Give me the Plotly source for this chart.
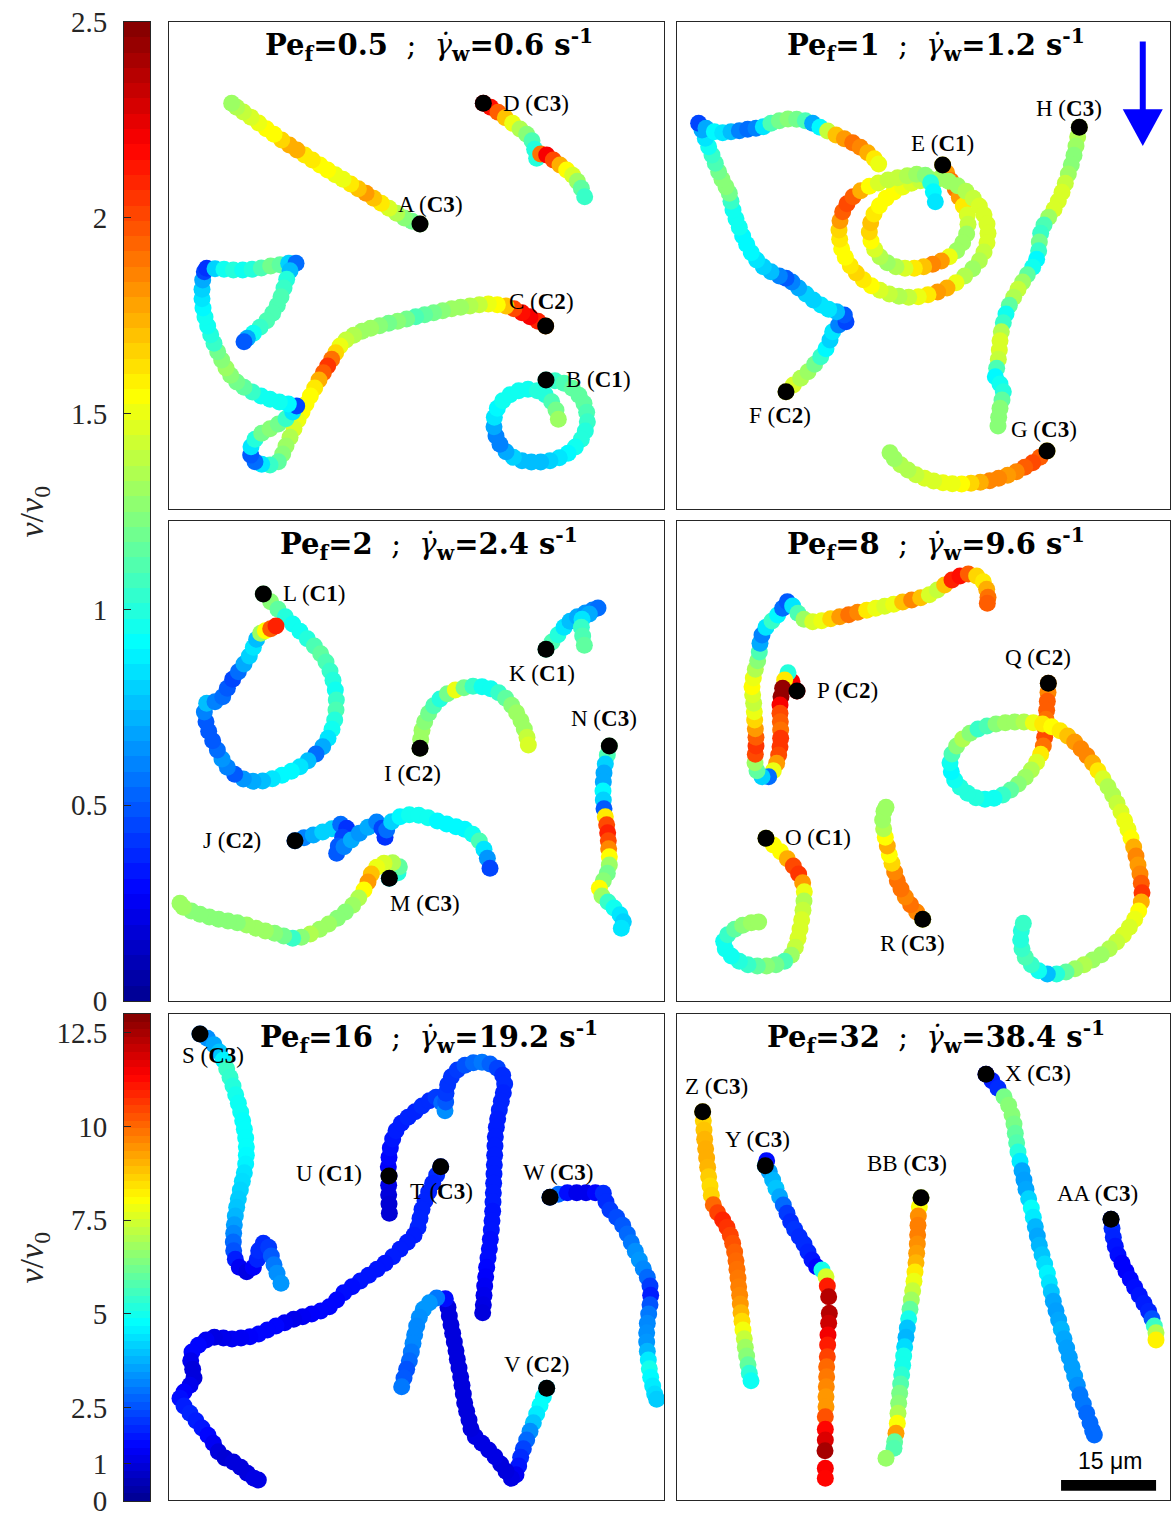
import plotly.graph_objects as go

W, H = 1171, 1514          # browser window (reference size)
PAGE_OFFSET = 0            # body margin is removed by the post script below
FIG_W, FIG_H = W - PAGE_OFFSET, H - PAGE_OFFSET
PX_PER_UM = 19.0           # tracking-image pixels per micrometre

# ---------------- trajectories: (x_px, y_px, v/v0) ----------------
# Pe_f = 0.5
A = [(750,612,1.25),(726,604,1.2),(703,594,1.25),(680,580,1.35),(657,565,1.45),(634,550,1.6),(611,535,1.7),
     (588,520,1.8),(565,506,1.7),(542,492,1.6),(519,478,1.5),(496,464,1.5),(473,450,1.55),(450,435,1.55),
     (427,420,1.6),(404,405,1.6),(381,390,1.75),(358,375,1.75),(335,360,1.65),(312,343,1.55),(289,326,1.55),
     (266,309,1.5),(243,292,1.45),(220,276,1.4),(200,262,1.35),(185,250,1.3)]
B = [(1128,1080,1.05),(1155,1082,1.05),(1182,1090,1.1),(1207,1105,1.15),(1227,1126,1.15),(1242,1150,1.15),
     (1250,1177,1.1),(1252,1205,1.05),(1246,1233,1.0),(1234,1258,1.0),(1216,1281,0.95),(1194,1300,0.9),
     (1168,1313,0.85),(1140,1322,0.8),(1112,1326,0.75),(1084,1326,0.75),(1056,1322,0.75),(1030,1312,0.8),
     (1008,1295,0.7),(990,1273,0.6),(978,1248,0.6),(972,1220,0.7),(973,1192,0.85),(982,1165,0.9),
     (998,1142,0.95),(1020,1124,0.95),(1046,1112,0.95),(1074,1108,0.95),(1102,1112,1.0),(1126,1124,1.0),
     (1145,1145,1.1),(1158,1170,1.2),(1165,1198,1.3)]
C = [(1127,918,1.8),(1104,904,2.1),(1080,890,2.2),(1056,878,2.15),(1032,866,2.0),(1008,858,1.7),(982,854,1.55),
     (955,852,1.5),(928,854,1.4),(900,858,1.35),(872,862,1.3),(845,866,1.3),(818,872,1.25),(791,878,1.2),
     (764,884,1.15),(737,890,1.1),(710,897,1.2),(683,904,1.25),(656,910,1.2),(629,917,1.25),(602,925,1.3),
     (576,934,1.3),(551,946,1.35),(528,960,1.4),(510,978,1.5),(497,998,1.65),(485,1018,1.9),(473,1038,2.05),
     (460,1058,1.95),(447,1080,1.75),(434,1104,1.6),(421,1128,1.55),(408,1152,1.55),(396,1176,1.55),
     (384,1200,1.5),(372,1226,1.45),(360,1252,1.35),(348,1278,1.3),(338,1302,1.25),(325,1325,1.15),
     (300,1335,1.05),(275,1333,0.85),(255,1325,0.55),(242,1305,0.5),(243,1280,0.85),(255,1258,1.0),
     (275,1240,1.2),(300,1226,1.25),(325,1212,1.2),(348,1196,1.05),(368,1176,0.85),(380,1158,0.45),
     (355,1152,0.9),(328,1146,0.95),(300,1138,0.95),(273,1128,0.95),(247,1116,1.05),(222,1102,1.15),
     (200,1086,1.2),(182,1066,1.25),(168,1044,1.3),(155,1020,1.25),(143,995,1.2),(132,970,1.05),
     (122,944,1.0),(113,918,0.95),(105,891,0.95),(99,864,0.9),(96,836,0.85),(96,808,0.8),(98,780,0.7),
     (103,755,0.45),(110,745,0.4),(135,746,0.8),(162,748,0.95),(190,750,1.0),(218,750,0.95),(246,748,1.0),
     (274,744,1.1),(302,738,1.2),(330,734,1.15),(356,730,0.8),(378,730,0.55),(360,752,0.75),(350,778,1.0),
     (342,804,1.05),(333,830,1.1),(322,856,1.1),(308,880,1.1),(290,902,1.1),(270,922,1.05),(250,940,0.95),
     (232,955,0.7),(222,965,0.5)]
D = [(940,250,2.2),(962,262,2.15),(984,277,1.95),(1006,293,1.7),(1028,310,1.5),(1050,327,1.35),(1070,343,1.25),
     (1086,362,1.1),(1094,388,1.0),(1100,415,1.0),(1112,402,1.9),(1130,405,2.2),(1150,420,2.0),(1170,435,1.75),
     (1190,450,1.55),(1208,466,1.45),(1222,484,1.3),(1234,505,1.15),(1244,530,1.05)]

# Pe_f = 1
E = [(800,435,1.6),(812,458,1.8),(825,482,1.9),(838,507,1.9),(850,532,1.8),(862,558,1.6),(874,585,1.45),
     (876,613,1.4),(872,642,1.3),(860,668,1.3),(842,692,1.3),(820,710,1.5),(796,723,1.8),(770,733,1.85),
     (743,740,1.7),(715,745,1.6),(687,745,1.45),(660,740,1.35),(634,728,1.3),(612,710,1.35),(596,688,1.45),
     (585,663,1.55),(580,636,1.65),(584,608,1.7),(594,582,1.6),(610,557,1.55),(630,535,1.55),(654,516,1.55),
     (680,501,1.5),(706,490,1.45),(733,482,1.4),(760,476,1.35),(790,476,1.3),(818,484,1.3),(845,497,1.3),
     (870,514,1.35),(892,535,1.4),(910,558,1.45),(924,584,1.45),(933,612,1.45),(936,640,1.45),(933,668,1.45),
     (924,696,1.4),(910,722,1.35),(890,746,1.3),(866,768,1.35),(840,788,1.5),(813,804,1.75),(785,816,1.8),
     (756,824,1.6),(727,830,1.5),(698,832,1.4),(669,829,1.35),(640,822,1.4),(612,811,1.45),(586,797,1.55),
     (562,779,1.6),(541,759,1.65),(523,737,1.6),(508,712,1.55),(497,686,1.55),(491,658,1.6),(489,630,1.65),
     (492,602,1.8),(500,575,1.95),(513,551,2.0),(531,530,1.95),(554,512,1.75),(580,499,1.55),(607,489,1.45),
     (636,480,1.4),(665,473,1.4),(694,467,1.35),(722,463,1.3),(748,466,1.25),(764,488,1.0),(772,515,0.9),
     (778,545,0.85)]
F = [(330,1115,1.5),(352,1095,1.45),(374,1075,1.35),(396,1055,1.3),(416,1033,1.2),(434,1010,1.05),(450,986,0.9),
     (462,960,0.8),(470,935,0.85),(488,915,0.6),(510,905,0.45),(505,885,0.5),(482,875,0.75),(458,868,0.85),
     (435,855,0.85),(412,840,0.8),(390,822,0.8),(368,804,0.7),(348,786,0.6),(330,775,0.5),(310,768,0.6),
     (285,755,0.75),(262,740,0.8),(242,720,0.85),(226,698,0.9),(212,673,0.9),(200,648,0.9),(190,622,0.95),
     (180,596,0.95),(171,570,0.95),(165,544,1.05),(160,520,1.2),(150,500,1.25),(138,478,1.25),(128,455,1.2),
     (118,430,1.1),(108,405,1.05),(98,380,0.95),(88,355,0.85),(78,330,0.7),(68,310,0.45),(90,325,0.7),
     (115,335,0.9),(140,338,0.85),(165,335,0.75),(190,332,0.6),(215,328,0.55),(240,325,0.6),(262,320,0.85),
     (285,310,1.1),(310,302,1.2),(336,297,1.25),(362,298,1.2),(388,302,1.1),(410,310,0.7),(432,322,0.9),
     (455,333,1.4),(480,345,1.7),(505,356,1.8),(530,368,1.9),(553,382,1.85),(575,398,1.75),(595,416,1.6),
     (608,432,1.5)]
G = [(1113,1293,1.6),(1092,1312,1.95),(1070,1328,2.0),(1046,1342,1.95),(1021,1355,1.85),(995,1366,1.8),
     (968,1375,1.85),(941,1382,1.85),(913,1387,1.75),(885,1390,1.65),(857,1392,1.55),(829,1391,1.5),
     (801,1388,1.5),(773,1383,1.45),(746,1375,1.45),(720,1364,1.4),(696,1350,1.35),(674,1334,1.35),
     (655,1316,1.3),(642,1298,1.3)]
HH = [(1210,322,1.4),(1205,350,1.35),(1200,378,1.3),(1194,406,1.25),(1186,434,1.25),(1177,462,1.3),(1168,490,1.4),
      (1158,517,1.45),(1147,543,1.45),(1134,568,1.45),(1118,592,1.3),(1104,615,1.1),(1094,640,1.05),
      (1090,666,1.2),(1088,692,1.05),(1082,718,0.9),(1070,742,0.95),(1054,764,1.15),(1040,786,1.3),
      (1026,808,1.4),(1013,832,1.35),(1000,856,1.15),(990,882,0.95),(982,908,1.05),(976,935,1.35),
      (972,962,1.45),(970,990,1.45),(967,1018,1.4),(962,1045,1.1),(958,1070,0.9),(972,1092,0.95),
      (982,1115,1.0),(978,1140,1.15),(972,1165,1.25),(968,1192,1.25),(966,1218,1.25)]

# Pe_f = 2
I = [(750,685,1.3),(752,658,1.3),(756,631,1.3),(764,605,1.25),(776,580,1.2),(791,557,1.1),(810,537,1.0),
     (832,521,1.2),(856,510,1.5),(882,503,1.2),(909,499,1.05),(936,500,0.95),(962,506,0.95),(986,518,1.05),
     (1007,535,1.15),(1025,556,1.25),(1040,578,1.3),(1053,602,1.3),(1063,627,1.3),(1071,652,1.4),(1075,675,1.45)]
J = [(375,962,0.55),(402,953,0.6),(430,945,0.7),(458,936,0.8),(486,926,0.8),(512,913,0.55),(530,925,0.4),
     (518,952,0.45),(505,978,0.5),(500,1000,0.5),(522,980,0.6),(544,960,0.7),(568,940,0.65),(594,922,0.7),
     (620,906,0.6),(636,925,0.45),(645,952,0.4),(650,930,0.55),(665,905,0.8),(690,890,0.9),(718,884,0.95),
     (746,886,0.95),(774,893,0.95),(802,903,0.9),(830,912,0.9),(858,920,0.9),(884,928,0.9),(908,943,0.95),
     (928,963,1.1),(942,988,0.85),(952,1015,0.65),(960,1045,0.45)]
K = [(1128,388,1.1),(1146,366,1.1),(1164,344,1.0),(1182,322,0.85),(1200,304,0.75),(1222,290,0.7),(1246,279,0.65),
     (1268,270,0.6),(1284,264,0.55),(1258,282,0.7),(1236,298,0.85),(1234,322,1.05),(1238,348,1.1),(1243,376,1.15)]
L = [(280,222,1.2),(302,245,1.25),(324,268,1.15),(346,290,1.0),(368,312,0.95),(390,334,0.95),(412,356,1.0),
     (433,378,1.1),(452,401,1.15),(468,426,1.1),(480,453,1.05),(489,481,1.0),(496,510,0.95),(499,540,1.05),
     (498,570,1.1),(494,600,1.0),(486,628,0.95),(474,655,0.85),(458,680,0.7),(438,702,0.55),(414,722,0.75),
     (390,740,0.85),(364,754,0.9),(336,766,0.9),(307,776,0.85),(278,783,0.75),(249,784,0.7),(220,777,0.65),
     (194,763,0.5),(172,742,0.6),(156,717,0.65),(142,690,0.55),(128,662,0.5),(116,634,0.5),(108,605,0.5),
     (103,576,0.6),(110,550,0.75),(135,545,0.6),(158,530,0.55),(172,505,0.5),(188,478,0.45),(205,455,0.55),
     (222,432,0.7),(238,408,0.8),(250,382,0.85),(260,358,0.75),(272,340,1.3),(286,332,1.55),(302,326,1.95),
     (318,318,2.1)]
M = [(658,1075,0.9),(684,1058,1.0),(688,1040,1.15),(668,1028,1.35),(642,1030,1.45),(620,1042,1.5),(604,1062,1.7),
     (594,1086,1.8),(582,1110,1.55),(566,1134,1.35),(548,1156,1.3),(526,1176,1.25),(502,1195,1.25),
     (476,1212,1.3),(449,1228,1.3),(421,1242,1.35),(394,1252,1.25),(368,1255,1.05),(341,1248,1.2),
     (314,1240,1.25),(286,1233,1.3),(258,1225,1.3),(230,1215,1.3),(202,1208,1.25),(174,1203,1.25),
     (146,1198,1.25),(118,1191,1.25),(90,1183,1.25),(64,1173,1.25),(40,1162,1.3),(30,1150,1.3)]
N = [(1318,678,1.2),(1312,705,1.1),(1306,732,0.8),(1302,759,0.7),(1300,786,0.7),(1299,813,0.9),(1300,840,0.8),
     (1302,866,0.5),(1306,890,1.6),(1310,914,2.0),(1313,938,2.1),(1315,962,2.0),(1316,986,1.85),(1318,1010,1.55),
     (1318,1035,1.3),(1312,1060,1.2),(1300,1082,1.25),(1288,1105,1.55),(1296,1128,1.3),(1314,1146,1.05),
     (1332,1164,0.95),(1350,1184,0.85),(1360,1205,0.8),(1354,1225,0.85)]

# Pe_f = 8
O = [(270,955,1.5),(292,975,1.55),(314,995,1.55),(334,1016,1.75),(352,1038,2.0),(368,1062,2.05),(380,1088,1.8),
     (385,1115,1.5),(384,1143,1.35),(381,1171,1.4),(377,1199,1.45),(372,1227,1.45),(366,1255,1.45),
     (358,1282,1.4),(346,1306,1.3),(326,1324,1.1),(300,1334,1.2),(272,1338,1.25),(244,1338,1.15),
     (216,1334,1.05),(190,1324,1.0),(166,1308,0.95),(148,1287,0.95),(143,1264,0.95),(155,1244,1.05),
     (176,1228,1.15),(200,1216,1.25),(226,1208,1.3),(248,1206,1.3)]
P = [(363,513,2.2),(348,485,2.2),(336,458,1.0),(326,480,1.6),(320,505,2.45),(315,530,2.45),(312,555,2.2),
     (312,580,2.0),(313,605,1.95),(314,630,1.9),(314,655,2.05),(312,680,2.05),(308,705,2.0),(302,730,1.8),
     (292,752,1.5),(278,770,0.55),(258,770,0.8),(243,752,1.15),(237,728,1.3),(238,703,2.0),(240,678,2.05),
     (240,652,1.95),(238,626,1.8),(236,600,1.65),(235,575,1.5),(233,550,1.4),(230,524,1.45),(228,500,1.55),
     (232,474,1.5),(238,448,1.35),(245,422,1.25),(250,396,1.1),(252,370,0.7),(258,345,0.6),(270,322,0.85),
     (288,303,1.05),(305,285,0.9),(320,265,0.55),(334,245,0.5),(350,258,0.85),(366,280,1.1),(384,298,1.3),
     (410,305,1.45),(437,302,1.5),(464,296,1.65),(491,290,1.8),(518,284,1.9),(545,277,1.85),(572,271,1.6),
     (599,265,1.5),(626,259,1.45),(653,253,1.5),(680,246,1.7),(707,240,1.85),(734,233,1.7),(760,224,1.45),
     (784,210,1.4),(806,195,1.7),(828,180,2.1),(852,168,2.15),(877,162,1.95),(902,168,1.65),(922,185,1.6),
     (932,208,1.75),(936,232,1.9),(934,250,1.95)]
Q = [(1117,490,1.8),(1116,517,1.85),(1114,544,1.95),(1112,571,1.95),(1110,598,1.9),(1108,625,1.95),(1106,652,2.0),
     (1102,678,1.9),(1094,703,1.6),(1082,727,1.45),(1066,750,1.35),(1048,772,1.3),(1027,792,1.25),
     (1004,810,1.15),(980,825,1.05),(954,835,0.95),(927,838,0.95),(900,833,1.0),(875,820,1.0),(853,802,1.0),
     (836,780,0.95),(826,755,0.9),(822,728,0.95),(828,702,1.1),(842,678,1.25),(860,657,1.35),(882,640,1.25),
     (906,627,1.05),(933,618,1.1),(960,612,1.25),(988,608,1.3),(1016,606,1.3),(1044,606,1.35),(1072,608,1.5),
     (1100,612,1.6),(1127,620,1.55),(1152,632,1.6),(1175,648,1.7),(1196,666,1.8),(1215,686,1.85),
     (1233,707,1.85),(1250,729,1.75),(1266,752,1.6),(1281,776,1.45),(1296,800,1.35),(1310,825,1.35),
     (1323,850,1.4),(1335,876,1.45),(1346,902,1.5),(1356,928,1.5),(1365,954,1.55),(1373,981,1.75),
     (1380,1008,1.85),(1386,1035,1.8),(1392,1062,1.85),(1396,1090,1.95),(1398,1118,2.05),(1396,1146,1.75),
     (1388,1173,1.55),(1376,1198,1.5),(1360,1222,1.45),(1342,1245,1.45),(1322,1266,1.4),(1300,1286,1.35),
     (1276,1304,1.3),(1250,1320,1.3),(1224,1334,1.35),(1197,1346,1.3),(1170,1356,1.15),(1142,1362,1.0),
     (1114,1362,0.75),(1088,1352,0.95),(1066,1334,1.05),(1048,1312,1.1),(1038,1286,1.05),(1034,1259,1.0),
     (1036,1232,1.0),(1042,1210,1.05)]
R = [(740,1198,1.5),(722,1176,1.85),(704,1154,1.9),(688,1131,1.85),(675,1107,1.9),(664,1082,1.9),(656,1056,1.85),
     (648,1030,1.65),(640,1004,1.55),(634,978,1.75),(628,952,1.55),(623,926,1.35),(620,900,1.3),(624,874,1.3),
     (630,862,1.3)]

# Pe_f = 16
S = [(90,72,3.0),(112,85,3.3),(132,104,3.6),(148,126,4.0),(160,150,4.6),(170,176,5.5),(180,202,5.4),(189,228,5.2),
     (197,254,5.0),(205,280,4.9),(212,306,4.9),(218,332,4.8),(223,358,4.8),(227,384,4.8),(229,410,4.8),
     (229,436,4.7),(227,462,4.6),(223,488,4.4),(217,514,4.3),(211,540,4.2),(205,566,4.1),(200,592,4.0),
     (196,618,3.8),(193,644,3.5),(191,670,3.2),(190,696,2.8),(191,722,2.5),(196,748,1.8),(208,772,1.3),
     (230,785,1.1),(250,772,1.4),(262,748,1.9),(266,722,2.0),(280,700,2.0),(296,712,2.2),(304,738,2.6),
     (312,764,3.0),(321,790,3.3),(333,820,3.4)]
T = [(812,470,2.0),(800,495,2.0),(788,520,1.9),(776,546,1.9),(765,572,1.9),(756,598,1.9),(750,625,1.9),
     (744,652,1.9),(732,676,1.8),(712,697,1.8),(690,718,1.8),(668,740,1.8),(645,760,1.7),(621,778,1.7),
     (596,796,1.7),(571,813,1.7),(546,830,1.6),(521,848,1.6),(500,870,1.5),(478,890,1.5),(452,903,1.5),
     (425,912,1.4),(398,920,1.3),(371,928,1.2),(344,938,1.3),(318,948,1.5),(292,960,1.5),(266,972,1.5),
     (240,980,1.4),(213,984,1.3),(186,987,1.3),(160,984,1.2),(133,982,1.1),(108,990,1.3),(85,1006,1.5),
     (66,1026,1.5),(62,1052,1.2),(68,1078,1.0),(72,1104,1.0),(60,1126,1.2),(42,1146,1.4),(30,1165,1.6),
     (42,1188,1.8),(60,1210,1.9),(78,1232,1.8),(96,1254,1.7),(114,1276,1.5),(130,1300,1.3),(145,1325,1.0),
     (165,1344,0.9),(190,1356,1.0),(212,1372,1.0),(232,1390,1.0),(252,1405,1.1),(265,1410,1.1)]
U = [(657,498,1.3),(656,526,1.1),(656,554,1.0),(657,582,0.9),(658,610,0.9),(655,470,1.4),(657,442,1.5),
     (661,414,1.6),(668,387,1.7),(678,362,1.8),(694,340,1.8),(714,322,1.9),(735,305,1.9),(756,288,2.0),
     (778,272,2.0),(798,262,2.2),(815,278,2.8),(825,302,3.3),(827,276,2.6),(828,250,2.2),(833,224,2.1),
     (844,200,2.1),(862,180,2.2),(885,166,2.5),(910,158,2.8),(936,157,3.0),(960,162,2.7),(982,175,2.3),
     (998,196,2.0),(1004,222,2.0),(1000,248,1.9),(994,274,1.9),(988,300,1.9),(983,326,1.8),(979,352,1.8),
     (976,380,1.8),(975,408,1.8),(974,436,1.8),(973,464,1.8),(972,492,1.8),(971,520,1.8),(970,548,1.8),
     (969,576,1.8),(968,604,1.7),(966,632,1.7),(964,660,1.7),(961,688,1.6),(958,716,1.6),(954,744,1.6),
     (950,772,1.5),(947,800,1.4),(944,828,1.3),(942,856,1.2),(940,884,1.1),(938,908,1.0)]
V = [(1130,1135,4.0),(1120,1160,4.7),(1110,1186,4.8),(1100,1212,4.5),(1090,1238,4.0),(1080,1264,3.3),
     (1070,1290,2.8),(1060,1316,2.3),(1052,1342,2.0),(1046,1368,1.7),(1038,1394,1.3),(1024,1405,1.1),
     (1008,1384,1.0),(992,1362,1.0),(975,1340,1.1),(956,1320,1.1),(936,1300,1.1),(916,1280,1.1),(903,1256,1.0),
     (897,1230,1.0),(890,1204,1.0),(884,1178,1.0),(880,1152,1.0),(876,1126,1.0),(872,1100,1.0),(867,1074,1.0),
     (862,1048,1.0),(858,1022,1.0),(853,996,1.0),(848,970,1.0),(843,944,1.0),(838,918,1.0),(834,892,1.0),
     (826,866,1.6),(800,864,3.0),(778,878,3.4),(760,898,3.4),(748,922,3.3),(740,948,3.2),(734,974,3.2),
     (729,1000,3.2),(724,1026,3.0),(718,1052,2.8),(710,1078,2.5),(702,1104,2.6),(695,1130,3.0)]
WW = [(1140,562,2.5),(1165,553,2.8),(1192,548,1.6),(1220,548,1.2),(1248,548,1.2),(1276,548,1.5),(1300,550,2.0),
      (1308,576,2.0),(1320,600,2.2),(1340,622,2.4),(1358,646,2.6),(1372,672,2.8),(1384,698,3.0),(1396,724,3.3),
      (1408,750,3.4),(1420,776,3.2),(1432,802,2.8),(1440,828,2.2),(1442,856,1.8),(1440,884,2.5),(1436,912,3.0),
      (1432,940,3.2),(1430,968,3.3),(1430,996,3.4),(1432,1024,3.8),(1435,1050,4.5),(1438,1076,5.0),
      (1442,1102,4.7),(1448,1128,4.5),(1454,1152,4.3),(1460,1168,4.1)]

# Pe_f = 32
X = [(930,193,1.5),(948,212,1.8),(966,235,2.0),(984,260,6.3),(998,286,6.5),(1008,314,6.5),(1014,342,6.3),
     (1018,370,6.0),(1022,398,5.8),(1026,426,5.2),(1032,454,4.5),(1038,482,3.6),(1044,510,3.5),(1050,538,3.6),
     (1058,566,4.2),(1066,594,4.8),(1072,622,4.5),(1078,650,3.8),(1084,678,3.6),(1090,706,3.8),(1098,734,4.0),
     (1106,762,4.3),(1114,790,4.6),(1120,818,4.4),(1126,846,4.0),(1132,874,3.6),(1140,902,3.5),(1148,930,3.6),
     (1156,958,3.8),(1164,986,3.6),(1172,1014,3.5),(1180,1042,3.5),(1188,1070,3.5),(1196,1098,3.5),
     (1204,1126,3.3),(1212,1154,3.0),(1222,1182,3.0),(1232,1210,2.8),(1242,1238,2.8),(1250,1262,2.8),
     (1255,1275,2.8)]
Y = [(268,467,4.2),(272,452,1.6),(280,485,3.5),(290,510,3.8),(300,535,4.0),(311,560,3.6),(322,585,2.8),
     (333,610,2.2),(344,635,2.0),(356,658,2.1),(370,680,2.0),(384,702,2.0),(396,726,1.9),(408,750,1.7),
     (422,770,1.5),(438,780,5.0),(450,800,7.5),(454,828,11.0),(458,860,12.3),(460,910,12.3),(458,940,12.0),
     (456,975,11.5),(455,1005,11.0),(454,1040,10.5),(452,1070,10.0),(452,1100,9.8),(451,1130,9.6),
     (450,1160,9.4),(450,1190,9.4),(448,1220,10.3),(448,1258,11.3),(448,1290,11.8),(447,1322,12.5),
     (448,1375,11.4),(448,1405,11.3)]
Z = [(80,305,8.5),(82,332,8.6),(84,360,8.8),(86,388,9.0),(89,416,9.1),(92,444,9.1),(95,472,9.0),(98,500,8.7),
     (102,528,8.5),(106,556,8.6),(112,584,10.0),(125,608,10.5),(140,630,10.9),(153,652,10.7),(163,676,10.5),
     (170,700,10.3),(176,726,10.1),(180,752,10.0),(183,778,9.9),(186,804,9.8),(188,830,9.7),(191,856,9.6),
     (193,882,9.4),(195,908,9.0),(198,934,8.5),(201,960,7.9),(205,986,7.3),(208,1012,6.8),(212,1038,6.5),
     (216,1064,6.0),(220,1090,5.3),(225,1112,4.9)]
AA = [(1305,628,2.0),(1308,655,2.0),(1312,682,1.9),(1318,709,1.7),(1326,735,1.6),(1338,760,1.4),(1350,784,1.4),
      (1363,808,1.5),(1376,832,1.6),(1390,856,1.7),(1404,880,1.8),(1418,904,1.9),(1428,926,2.5),(1435,948,5.5),
      (1440,968,7.0),(1440,990,8.2)]
BB = [(735,563,7.5),(730,590,8.0),(727,618,9.5),(726,646,9.7),(725,674,9.7),(724,702,9.5),(722,730,9.3),
      (720,758,9.0),(717,786,8.3),(714,814,7.8),(710,842,7.3),(706,870,6.8),(702,898,6.0),(698,926,5.0),
      (694,954,4.0),(690,982,3.8),(686,1010,4.3),(683,1038,5.0),(680,1066,5.0),(677,1094,5.3),(674,1122,5.8),
      (671,1150,6.3),(668,1180,6.5),(666,1210,7.0),(664,1240,8.0),(660,1270,9.3),(656,1295,6.0),(654,1315,5.8),
      (630,1345,6.7)]

# ---------------- panel metadata ----------------
PE_F = ["0.5", "1", "2", "8", "16", "32"]
GAMMA_W = ["0.6", "1.2", "2.4", "9.6", "19.2", "38.4"]
PANEL_TRACKS = [
    [("A", "C3", A), ("B", "C1", B), ("C", "C2", C), ("D", "C3", D)],
    [("E", "C1", E), ("F", "C2", F), ("G", "C3", G), ("H", "C3", HH)],
    [("I", "C2", I), ("J", "C2", J), ("K", "C1", K), ("L", "C1", L), ("M", "C3", M), ("N", "C3", N)],
    [("O", "C1", O), ("P", "C2", P), ("Q", "C2", Q), ("R", "C3", R)],
    [("S", "C3", S), ("T", "C3", T), ("U", "C1", U), ("V", "C2", V), ("W", "C3", WW)],
    [("X", "C3", X), ("Y", "C3", Y), ("Z", "C3", Z), ("AA", "C3", AA), ("BB", "C3", BB)],
]
VMAX = [2.5, 2.5, 2.5, 2.5, 13.0, 13.0]
CBAR_TICKS_LOW = [0, 0.5, 1, 1.5, 2, 2.5]
CBAR_TICKS_HIGH = [0, 1, 2.5, 5, 7.5, 10, 12.5]
SCALE_BAR_UM = 15

# ---------------- layout / styling (window pixels & micrometres) ----------------
PANEL_BOX = [(169, 664, 22, 509), (677, 1170, 22, 509),
             (169, 664, 521, 1001), (677, 1170, 521, 1001),
             (169, 664, 1014, 1500), (677, 1170, 1014, 1500)]
FIELD = [((-0.16, 78.0), (0.32, 77.21)), ((0.16, 78.0), (0.32, 77.21)),
         ((-0.16, 78.0), (0.16, 75.95)), ((0.16, 78.0), (0.16, 75.95)),
         ((-0.16, 78.0), (0.63, 77.37)), ((0.16, 78.0), (0.63, 77.37))]
CBAR_BOX = [(124, 150, 22, 1001), (124, 150, 1014, 1501)]
LABEL_OFFSET = {"A": (10, -19), "B": (52, 0), "C": (-4, -24), "D": (53, 0),
                "E": (0, -21), "F": (-6, 24), "G": (-3, -21), "H": (-10, -19),
                "I": (-8, 25), "J": (-63, 0), "K": (-4, 24), "L": (51, 0), "M": (36, 25), "N": (-5, -27),
                "O": (52, -1), "P": (51, 0), "Q": (-10, -26), "R": (-10, 24),
                "S": (13, 21), "T": (1, 25), "U": (-60, -3), "V": (-10, -24), "W": (8, -25),
                "X": (52, -1), "Y": (-8, -26), "Z": (14, -25), "AA": (-14, -26), "BB": (-14, -34)}

JET = [[0.0, "rgb(0,0,143)"], [0.111, "rgb(0,0,255)"], [0.365, "rgb(0,255,255)"],
       [0.619, "rgb(255,255,0)"], [0.873, "rgb(255,0,0)"], [1.0, "rgb(128,0,0)"]]
FRAME = "#262626"
SERIF = "Liberation Serif"
TITLE_FONT = "DejaVu Serif"
MARKER_SIZE = 17
DOT_SIZE = 17


def xdom(a, b):
    return [(a - PAGE_OFFSET) / FIG_W, (b - PAGE_OFFSET) / FIG_W]


def ydom(top, bottom):
    return [1 - (bottom - PAGE_OFFSET) / FIG_H, 1 - (top - PAGE_OFFSET) / FIG_H]


fig = go.Figure()
layout = dict(width=FIG_W, height=FIG_H, margin=dict(l=0, r=0, t=0, b=0, pad=0), autosize=False,
              paper_bgcolor="white", plot_bgcolor="white", showlegend=False)
annotations = []
shapes = []
NB = "\u00a0"

for k, tracks in enumerate(PANEL_TRACKS):
    n = k + 1
    xa, ya = f"x{n}", f"y{n}"
    for name, cls, tr in tracks:
        fig.add_trace(go.Scatter(
            x=[p[0] / PX_PER_UM for p in tr], y=[p[1] / PX_PER_UM for p in tr],
            mode="markers", xaxis=xa, yaxis=ya, hoverinfo="skip",
            marker=dict(size=MARKER_SIZE, color=[p[2] for p in tr], colorscale=JET,
                        cmin=0, cmax=VMAX[k], line=dict(width=0), opacity=1)))
    fig.add_trace(go.Scatter(
        x=[t[2][0][0] / PX_PER_UM for t in tracks], y=[t[2][0][1] / PX_PER_UM for t in tracks],
        mode="markers", xaxis=xa, yaxis=ya, hoverinfo="skip",
        marker=dict(size=DOT_SIZE, color="black", line=dict(width=0))))
    for name, cls, tr in tracks:
        dx, dy = LABEL_OFFSET[name]
        annotations.append(dict(
            x=tr[0][0] / PX_PER_UM, y=tr[0][1] / PX_PER_UM, xref=xa, yref=ya,
            text=f"{name} (<b>{cls}</b>)", showarrow=False, xanchor="center", yanchor="middle",
            xshift=dx, yshift=-dy, font=dict(family=SERIF, size=23, color="black")))
    title = (f"<b>Pe<sub>f</sub>={PE_F[k]}</b>{NB}{NB};{NB}{NB}<i>\u03b3\u0307</i>"
             f"<b><sub>w</sub>={GAMMA_W[k]}{NB}s<sup>-1</sup></b>")
    annotations.append(dict(
        x=0.5, y=1, xref=f"x{n} domain" if n > 1 else "x domain",
        yref=f"y{n} domain" if n > 1 else "y domain",
        text=title, showarrow=False, xanchor="center", yanchor="top", xshift=12, yshift=0,
        font=dict(family=TITLE_FONT, size=29, color="black")))
    l, r, t, b = PANEL_BOX[k]
    (x0, x1), (y0, y1) = FIELD[k]
    axstyle = dict(showline=True, mirror=True, linecolor=FRAME, linewidth=1, showgrid=False,
                   zeroline=False, showticklabels=False, ticks="", automargin=False)
    layout[f"xaxis{n}" if n > 1 else "xaxis"] = dict(domain=xdom(l, r), range=[x0, x1],
                                                   anchor=ya, **axstyle)
    layout[f"yaxis{n}" if n > 1 else "yaxis"] = dict(domain=ydom(t, b), range=[y1, y0],
                                                   anchor=xa, **axstyle)

# flow-direction arrow (panel 2, micrometres)
ARROW_X, ARROW_Y0, ARROW_Y1, HEAD_Y, HEAD_HALF = 73.7, 3.4, 14.6, 14.1, 3.16
ARROW_TIP = 19.9
shapes.append(dict(type="line", xref="x2", yref="y2", x0=ARROW_X, x1=ARROW_X, y0=ARROW_Y0, y1=ARROW_Y1,
                   line=dict(color="#0000FF", width=6)))
shapes.append(dict(type="path", xref="x2", yref="y2",
                   path=f"M {ARROW_X-HEAD_HALF},{HEAD_Y} L {ARROW_X+HEAD_HALF},{HEAD_Y} L {ARROW_X},{ARROW_TIP} Z",
                   fillcolor="#0000FF", line=dict(width=0)))

# scale bar (panel 6, micrometres)
BAR_X0, BAR_Y0, BAR_Y1 = 60.8, 74.2, 75.9
shapes.append(dict(type="rect", xref="x6", yref="y6", x0=BAR_X0, x1=BAR_X0 + SCALE_BAR_UM,
                   y0=BAR_Y0, y1=BAR_Y1, fillcolor="black", line=dict(width=0)))
annotations.append(dict(x=BAR_X0 + SCALE_BAR_UM / 2 + 0.25, y=BAR_Y0 - 0.6, xref="x6", yref="y6",
                        text="15 \u03bcm", showarrow=False, xanchor="center", yanchor="bottom",
                        font=dict(family="Liberation Sans", size=23, color="black")))

# colour bars as heat-map strips with their own axes
for j, (vmax, ticks) in enumerate([(2.5, CBAR_TICKS_LOW), (13.0, CBAR_TICKS_HIGH)]):
    n = 7 + j
    levels = [(i + 0.5) * vmax / 64 for i in range(64)]
    fig.add_trace(go.Heatmap(x=[0], y=levels, z=[[v] for v in levels], colorscale=JET, zmin=0, zmax=vmax,
                             showscale=False, xaxis=f"x{n}", yaxis=f"y{n}", hoverinfo="skip"))
    l, r, t, b = CBAR_BOX[j]
    layout[f"xaxis{n}"] = dict(domain=xdom(l, r), range=[-0.5, 0.5], anchor=f"y{n}", showline=True,
                               mirror=True, linecolor=FRAME, linewidth=1, showgrid=False, zeroline=False,
                               showticklabels=False, ticks="", automargin=False)
    layout[f"yaxis{n}"] = dict(domain=ydom(t, b), range=[0, vmax], anchor=f"x{n}", side="left",
                               showline=True, mirror=True, linecolor=FRAME, linewidth=1, showgrid=False,
                               zeroline=False, ticks="inside", ticklen=7, tickcolor=FRAME, automargin=False,
                               tickvals=ticks, ticktext=[f"{v:g}" for v in ticks], ticklabelstandoff=10,
                               ticklabeloverflow="allow",
                               tickfont=dict(family=SERIF, size=29, color=FRAME))
    annotations.append(dict(x=(33 - PAGE_OFFSET) / FIG_W, y=1 - ((t + b) / 2 - PAGE_OFFSET) / FIG_H,
                            xref="paper", yref="paper",
                            text="<i>v</i>/<i>v</i><sub>0</sub>", showarrow=False, textangle=-90,
                            xanchor="center", yanchor="middle",
                            font=dict(family=SERIF, size=34, color=FRAME)))

layout["annotations"] = annotations
layout["shapes"] = shapes
fig.update_layout(**layout)
fig.write_html("out.html", config={"displayModeBar": False},
               post_script="document.body.style.margin='0px';")
